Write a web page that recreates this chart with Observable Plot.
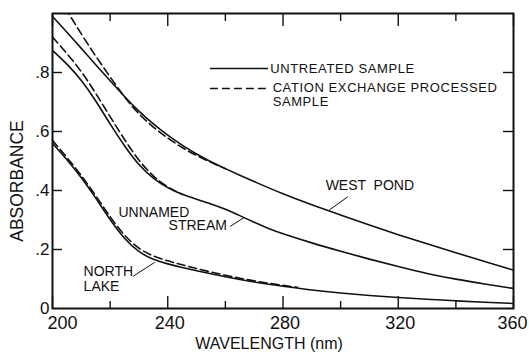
<!DOCTYPE html>
<html><head><meta charset="utf-8">
<script src="https://cdn.jsdelivr.net/npm/d3@7"></script>
<script src="https://cdn.jsdelivr.net/npm/@observablehq/plot@0.6"></script>
<style>html,body{margin:0;padding:0;background:#fff}</style>
</head><body><div id="chart"></div>
<script>
// ---- data ----
const westPondUntreatedX = [200,205,210,215,220,225,230,235,240,245,250,255,260,265,270,280,290,300,310,320,330,340,350,360];
const westPondUntreatedY = [0.99,0.937,0.882,0.826,0.772,0.718,0.668,0.625,0.587,0.553,0.523,0.497,0.474,0.452,0.43,0.388,0.351,0.317,0.283,0.25,0.219,0.189,0.159,0.13];
const westPondCationX = [200,205,210,215,220,225,230,235,240,245,250,255,260];
const westPondCationY = [1.09,1.01,0.93,0.855,0.785,0.715,0.658,0.614,0.577,0.545,0.518,0.495,0.474];

const unnamedUntreatedX = [200,205,210,215,220,225,230,235,240,245,250,255,260,265,270,275,280,290,300,310,320,330,340,350,360];
const unnamedUntreatedY = [0.875,0.83,0.775,0.705,0.625,0.55,0.485,0.44,0.408,0.386,0.37,0.355,0.337,0.315,0.292,0.271,0.253,0.222,0.194,0.167,0.142,0.118,0.099,0.083,0.068];
const unnamedCationX = [200,205,210,215,220,225,230,235,240,245];
const unnamedCationY = [0.92,0.865,0.805,0.73,0.65,0.572,0.5,0.447,0.41,0.387];

const northLakeUntreatedX = [200,205,210,215,220,225,230,235,240,245,250,260,270,280,290,300,310,320,330,340,350,360];
const northLakeUntreatedY = [0.56,0.505,0.445,0.375,0.3,0.235,0.19,0.165,0.151,0.139,0.128,0.107,0.089,0.075,0.062,0.052,0.044,0.037,0.031,0.026,0.021,0.017];
const northLakeCationX = [200,205,210,215,220,225,230,235,240,245,250,260,270,280,285];
const northLakeCationY = [0.57,0.512,0.452,0.383,0.31,0.246,0.201,0.177,0.161,0.148,0.135,0.112,0.093,0.078,0.072];

const xTickLabels = [200,240,280,320,360];
const xMinorTicks = [220,260,300,340];
const yTicks = [0,0.2,0.4,0.6,0.8];
const yTickLabels = ["0",".2",".4",".6",".8"];
const legendLabels = ["UNTREATED SAMPLE","CATION EXCHANGE PROCESSED","SAMPLE"];
const seriesLabels = ["WEST  POND","UNNAMED","STREAM","NORTH","LAKE"];

// ---- build tables ----
const toRows = (xs, ys) => xs.map((x, i) => ({x, y: ys[i]}));
const solid = [
  toRows(westPondUntreatedX, westPondUntreatedY),
  toRows(unnamedUntreatedX, unnamedUntreatedY),
  toRows(northLakeUntreatedX, northLakeUntreatedY)
];
const dashed = [
  toRows(westPondCationX, westPondCationY),
  toRows(unnamedCationX, unnamedCationY),
  toRows(northLakeCationX, northLakeCationY)
];

const ink = "#111";
const lw = 1.6;
const dash = "8,4";
const yFmt = d => yTickLabels[yTicks.indexOf(d)];

const labelRows = [
  {x: 294.8, y: 0.417, t: seriesLabels[0]},
  {x: 222.9, y: 0.325, t: seriesLabels[1]},
  {x: 240.3, y: 0.281, t: seriesLabels[2]},
  {x: 210.8, y: 0.126, t: seriesLabels[3]},
  {x: 210.8, y: 0.075, t: seriesLabels[4]}
];
const arrows = [
  {x1: 302.4, y1: 0.378, x2: 296.2, y2: 0.335, bend: -25},
  {x1: 261.8, y1: 0.279, x2: 266.3, y2: 0.307, bend: 10},
  {x1: 228.1, y1: 0.110, x2: 235.4, y2: 0.156, bend: 20}
];
const legendLines = [
  {x1: 254.8, x2: 275.0, y: 0.8136, dashed: false},
  {x1: 254.8, x2: 274.3, y: 0.746, dashed: true}
];
const legendText = [
  {x: 275.6, y: 0.8136, t: legendLabels[0]},
  {x: 276.4, y: 0.748, t: legendLabels[1]},
  {x: 276.4, y: 0.700, t: legendLabels[2]}
];

const chart = Plot.plot({
  width: 529,
  height: 352,
  marginLeft: 52,
  marginRight: 16,
  marginTop: 13,
  marginBottom: 44,
  x: {domain: [200, 360]},
  y: {domain: [0, 1]},
  style: {fontFamily: "'Liberation Sans', Arial, sans-serif", color: ink, background: "#fff"},
  marks: [
    // inward ticks
    Plot.axisX(xTickLabels, {anchor: "bottom", tickSize: 12, dy: -12, text: null, label: null, strokeWidth: 1.4}),
    Plot.axisX(xMinorTicks, {anchor: "bottom", tickSize: 7, dy: -7, text: null, label: null, strokeWidth: 1.4}),
    Plot.axisX(xTickLabels, {anchor: "top", tickSize: 12, dy: 12, text: null, label: null, strokeWidth: 1.4}),
    Plot.axisX(xMinorTicks, {anchor: "top", tickSize: 7, dy: 7, text: null, label: null, strokeWidth: 1.4}),
    Plot.axisY(yTicks.slice(1), {anchor: "left", tickSize: 10, dx: 10, text: null, label: null, strokeWidth: 1.4}),
    Plot.axisY(yTicks.slice(1), {anchor: "right", tickSize: 11, dx: -11, text: null, label: null, strokeWidth: 1.4}),
    // tick labels
    Plot.axisX(xTickLabels.slice(1, 4), {anchor: "bottom", tickSize: 0, tickPadding: 8, dx: 2, fontSize: 18, label: null}),
    Plot.axisX(xTickLabels.slice(0, 1), {anchor: "bottom", tickSize: 0, tickPadding: 8, dx: -5, textAnchor: "start", fontSize: 18, label: null}),
    Plot.axisX(xTickLabels.slice(4), {anchor: "bottom", tickSize: 0, tickPadding: 8, dx: 14, textAnchor: "end", fontSize: 18, label: null}),
    Plot.axisY(yTicks, {anchor: "left", tickSize: 0, tickPadding: 3, fontSize: 17, tickFormat: yFmt, label: null}),
    // axis titles
    Plot.text(["WAVELENGTH (nm)"], {frameAnchor: "bottom", lineAnchor: "middle", textAnchor: "middle", dy: 35, dx: -14, fontSize: 16}),
    Plot.text(["ABSORBANCE"], {frameAnchor: "left", textAnchor: "middle", lineAnchor: "middle", rotate: -90, dx: -35.5, dy: 20, fontSize: 17.5}),
    // curves
    ...solid.map(rows => Plot.line(rows, {x: "x", y: "y", curve: "basis", stroke: ink, strokeWidth: lw, clip: true})),
    ...dashed.map(rows => Plot.line(rows, {x: "x", y: "y", curve: "basis", stroke: ink, strokeWidth: lw, strokeDasharray: dash, clip: true})),
    // labels + arrows
    Plot.text(labelRows, {x: "x", y: "y", text: "t", textAnchor: "start", fontSize: 14}),
    Plot.arrow(arrows, {x1: "x1", y1: "y1", x2: "x2", y2: "y2", bend: "bend", headLength: 6, stroke: ink, strokeWidth: 1}),
    // legend
    Plot.ruleY(legendLines.filter(d => !d.dashed), {y: "y", x1: "x1", x2: "x2", stroke: ink, strokeWidth: lw}),
    Plot.ruleY(legendLines.filter(d => d.dashed), {y: "y", x1: "x1", x2: "x2", stroke: ink, strokeWidth: lw, strokeDasharray: dash}),
    Plot.text(legendText, {x: "x", y: "y", text: "t", textAnchor: "start", fontSize: 13}),
    Plot.frame({stroke: ink, strokeWidth: 2})
  ]
});
// widen the legend lettering a little, like the original stencil lettering
d3.select(chart).selectAll("text")
  .filter(function() { return legendLabels.includes(this.textContent); })
  .attr("letter-spacing", "0.6");
document.getElementById("chart").appendChild(chart);
</script>
</body></html>
